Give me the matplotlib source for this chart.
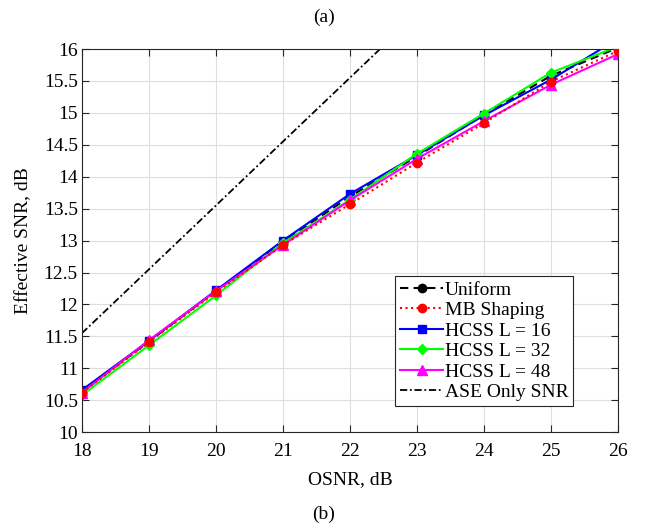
import numpy as np
import matplotlib
matplotlib.use("Agg")
import matplotlib.pyplot as plt

plt.rcParams['font.family'] = ['Liberation Serif', 'DejaVu Serif']
plt.rcParams['mathtext.fontset'] = 'stix'

# OSNR sweep, dB
osnr = [18, 19, 20, 21, 22, 23, 24, 25, 26]

# effective SNR per scheme, dB
snr_uniform = [10.63, 11.42, 12.21, 12.98, 13.69, 14.32, 14.97, 15.58, 16.02]
snr_mb = [10.62, 11.41, 12.19, 12.93, 13.57, 14.22, 14.84, 15.49, 15.97]
snr_hcss16 = [10.66, 11.43, 12.22, 13.00, 13.73, 14.34, 14.96, 15.52, 16.16]
snr_hcss32 = [10.58, 11.36, 12.14, 12.96, 13.64, 14.36, 14.99, 15.63, 16.04]
snr_hcss48 = [10.62, 11.44, 12.21, 12.93, 13.63, 14.28, 14.87, 15.44, 15.92]
snr_ase = [11.55, 12.55, 13.55, 14.55, 15.55, 16.55, 17.55, 18.55, 19.55]

xticks = [18, 19, 20, 21, 22, 23, 24, 25, 26]
yticks = [10, 10.5, 11, 11.5, 12, 12.5, 13, 13.5, 14, 14.5, 15, 15.5, 16]
ytick_labels = ['10', '10.5', '11', '11.5', '12', '12.5', '13', '13.5',
                '14', '14.5', '15', '15.5', '16']

fig = plt.figure(figsize=(6.47, 5.27), dpi=100)
ax = fig.add_axes([0.1267, 0.18, 0.955 - 0.1267, 0.907 - 0.18])

lw = 1.5
ms = 6
ax.plot(osnr, snr_uniform, '--', color='black', marker='o', lw=lw, ms=ms,
        label='Uniform', dashes=(4, 2.5))
ax.plot(osnr, snr_mb, ':', color='red', marker='o', lw=lw, ms=ms,
        label='MB Shaping', zorder=5, clip_on=False)
ax.plot(osnr, snr_hcss16, '-', color='blue', marker='s', lw=lw, ms=ms,
        label='HCSS L = 16')
ax.plot(osnr, snr_hcss32, '-', color='#00ff00', marker='D', lw=lw, ms=5,
        label='HCSS L = 32')
ax.plot(osnr, snr_hcss48, '-', color='magenta', marker='^', lw=lw, ms=7,
        label='HCSS L = 48')
ax.plot(osnr, snr_ase, '-.', color='black', lw=1.3, label='ASE Only SNR',
        dashes=(4, 1.5, 1, 1.5))

# clip MB line to the axes but keep its markers visible at the edge
ax.lines[1].set_clip_on(True)

ax.set_xlim(18, 26)
ax.set_ylim(10, 16)
ax.set_xticks(xticks)
ax.set_yticks(yticks)
ax.set_yticklabels(ytick_labels)
ax.tick_params(direction='in', top=True, right=True, labelsize=14, length=5,
               width=0.8, pad=3, color='#262626')
ax.tick_params(axis='x', pad=8)
ax.grid(True, color='#dedede', lw=0.8)
ax.set_axisbelow(True)
for sp in ax.spines.values():
    sp.set_color('#262626')
    sp.set_linewidth(0.8)

ax.set_xlabel('OSNR, dB', fontsize=14, labelpad=8)
ax.set_ylabel('Effective SNR, dB', fontsize=14, labelpad=8)

leg = ax.legend(loc='lower right', bbox_to_anchor=(0.917, 0.068), fontsize=14,
                fancybox=False, edgecolor='#262626', framealpha=1,
                handlelength=2.2, handletextpad=0.1, labelspacing=0.15,
                borderpad=0.25, borderaxespad=0)
leg.get_frame().set_linewidth(0.8)

fig.text(0.5, 1 - 17 / 527, '(a)', ha='center', va='center', fontsize=14)
fig.text(0.5, 1 - 514 / 527, '(b)', ha='center', va='center', fontsize=14)

fig.savefig('out.png', dpi=100)
